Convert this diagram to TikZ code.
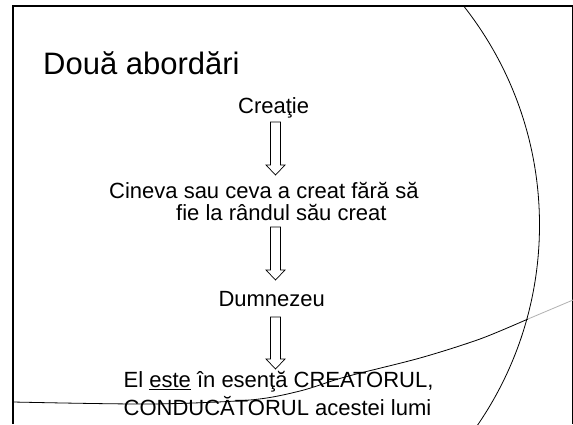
\documentclass[tikz,border=0pt]{standalone}
\usepackage{fontspec}
\setmainfont{Liberation Sans}
\usetikzlibrary{calc}
\newcommand{\blockarr}[2]{%
  \draw[blk] ($(#1)+(-5,0)$) -- ($(#1)+(5,0)$) -- ($(#2)+(5,-10)$) -- ($(#2)+(9.5,-10)$)
    -- (#2) -- ($(#2)+(-9.5,-10)$) -- ($(#2)+(-5,-10)$) -- cycle;}
\begin{document}
\begin{tikzpicture}[x=1pt,y=-1pt,
  body/.style={font=\fontsize{22}{22}\selectfont, inner sep=0pt, anchor=base west},
  ttl/.style={font=\fontsize{31}{31}\selectfont, inner sep=0pt, anchor=base west},
  blk/.style={draw=black, line width=0.7pt, fill=white, line join=miter},
  thinline/.style={draw=black, line width=0.8pt}]
\useasboundingbox (0,0) rectangle (573,424);
\fill[white] (0,0) rectangle (573,424);
% frame
\draw[line width=2.2pt] (12,6) -- (573,6);
\draw[line width=2.5pt] (13,5) -- (13,424);
\draw[line width=0.9pt] (572,6) -- (572,424);
% texts
\node[ttl] (title) at (43,74) {Două abordări};
\node[body] (cre) at (238,113.3) {Creaţie};
\node[body, align=left] (cin) at (109,220) {Cineva sau ceva a creat fără să\\\hspace*{67pt}fie la rândul său creat};
\node[body] (dum) at (218.3,306.7) {Dumnezeu};
\node[body, align=left] (el) at (123.5,415) {El \underline{este} în esenţă CREATORUL,\\[3pt]CONDUCĂTORUL acestei lumi};
% decorative curves
\begin{scope}
  \clip (13,6) rectangle (573,424);
  \draw[thinline] (185.5,225) circle[radius=354pt];
  \draw[thinline] plot[smooth] coordinates {(13,402) (150,404) (250,400) (300,391) (345,377) (420,358) (480,339) (528,319)};
  \draw[draw=gray!60, line width=0.8pt] (528,319) -- (573,300);
\end{scope}
% arrows
\coordinate (a1t) at (275.5,122);
\coordinate (a1b) at (275.5,175);
\coordinate (a2t) at (275.5,227);
\coordinate (a2b) at (275.5,280);
\coordinate (a3t) at (275.5,317);
\coordinate (a3b) at (275.5,369);
\blockarr{a1t}{a1b}
\blockarr{a2t}{a2b}
\blockarr{a3t}{a3b}
\end{tikzpicture}
\end{document}
